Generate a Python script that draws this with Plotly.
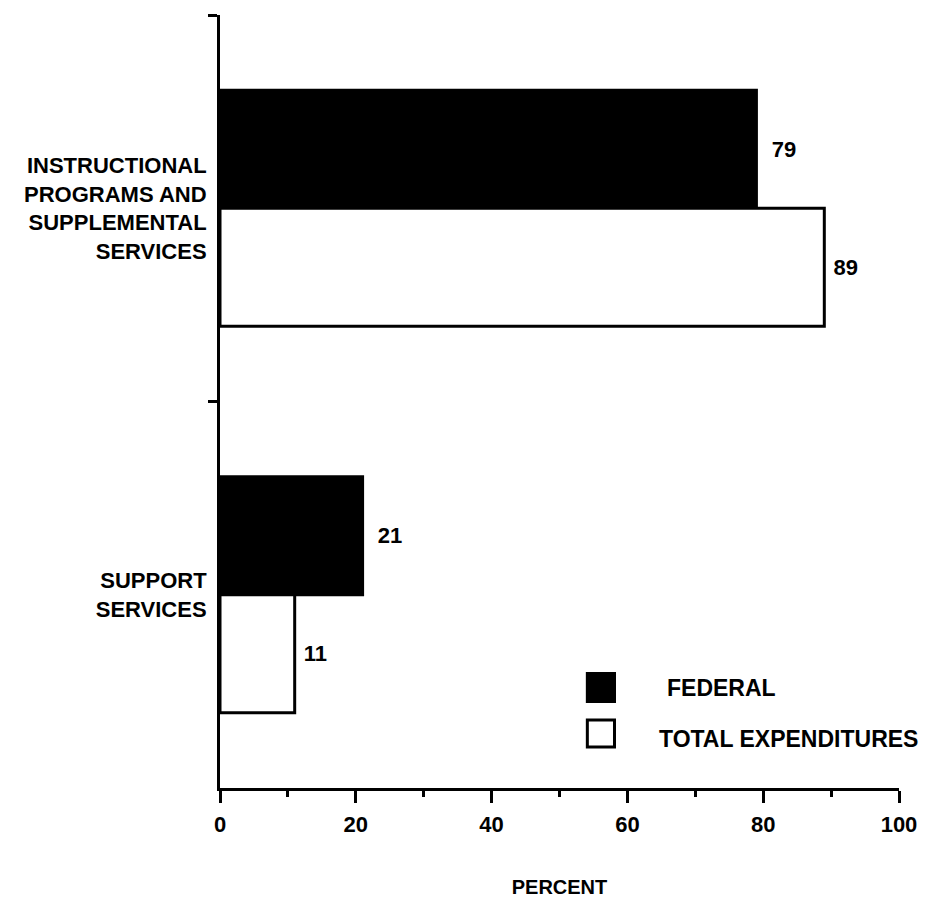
import plotly.graph_objects as go

categories = ["INSTRUCTIONAL<br>PROGRAMS AND<br>SUPPLEMENTAL<br>SERVICES", "SUPPORT<br>SERVICES"]
federal = [79, 21]
total = [89, 11]
series_names = ["FEDERAL", "TOTAL EXPENDITURES"]
x_ticks = [0, 20, 40, 60, 80, 100]

FONT = "Liberation Sans"
BOLD = dict(family=FONT, size=22, color="black", weight="bold")

fig = go.Figure()
fig.add_trace(go.Bar(
    y=categories, x=federal, orientation="h", name=series_names[0],
    marker=dict(color="black", line=dict(color="black", width=3)),
    texttemplate="  %{x}", textposition="outside",
    textfont=BOLD, cliponaxis=False, showlegend=False,
))
fig.add_trace(go.Bar(
    y=categories, x=total, orientation="h", name=series_names[1],
    marker=dict(color="white", line=dict(color="black", width=3)),
    texttemplate=" %{x}", textposition="outside",
    textfont=BOLD, cliponaxis=False, showlegend=False,
))

# manual legend (swatches + labels) in paper coordinates
legend_items = [
    dict(fill="black", y0=0.112, y1=0.148, label=series_names[0], ty=0.129, tx=0.655),
    dict(fill="white", y0=0.053, y1=0.088, label=series_names[1], ty=0.064, tx=0.643),
]
for it in legend_items:
    fig.add_shape(type="rect", xref="paper", yref="paper",
                  x0=0.541, x1=0.581, y0=it["y0"], y1=it["y1"],
                  fillcolor=it["fill"], line=dict(color="black", width=3))
    fig.add_annotation(xref="paper", yref="paper", x=it["tx"], y=it["ty"],
                       text=it["label"], showarrow=False, xanchor="left",
                       yanchor="middle", font=dict(BOLD, size=23))

fig.update_layout(
    width=924, height=894,
    margin=dict(l=212, r=33, t=7, b=112),
    plot_bgcolor="white", paper_bgcolor="white",
    barmode="group", bargap=0.39, bargroupgap=0,
    font=BOLD,
)
fig.update_xaxes(
    range=[0, 100], tickvals=x_ticks, ticktext=[str(v) for v in x_ticks],
    ticks="outside", ticklen=12, tickwidth=3, tickcolor="black",
    minor=dict(dtick=10, ticks="outside", ticklen=6, tickwidth=3, tickcolor="black"),
    showline=True, linewidth=3, linecolor="black", showgrid=False, zeroline=False,
    title=dict(text="PERCENT", font=dict(BOLD, size=20), standoff=44),
    tickfont=BOLD, ticklabelstandoff=3,
)
fig.update_yaxes(
    autorange="reversed", type="category", tickson="boundaries",
    ticks="outside", ticklen=9, tickwidth=3, tickcolor="black",
    showline=True, linewidth=3, linecolor="black", showgrid=False,
    ticklabelstandoff=6,
    tickfont=BOLD,
)

fig.write_html("out.html")
